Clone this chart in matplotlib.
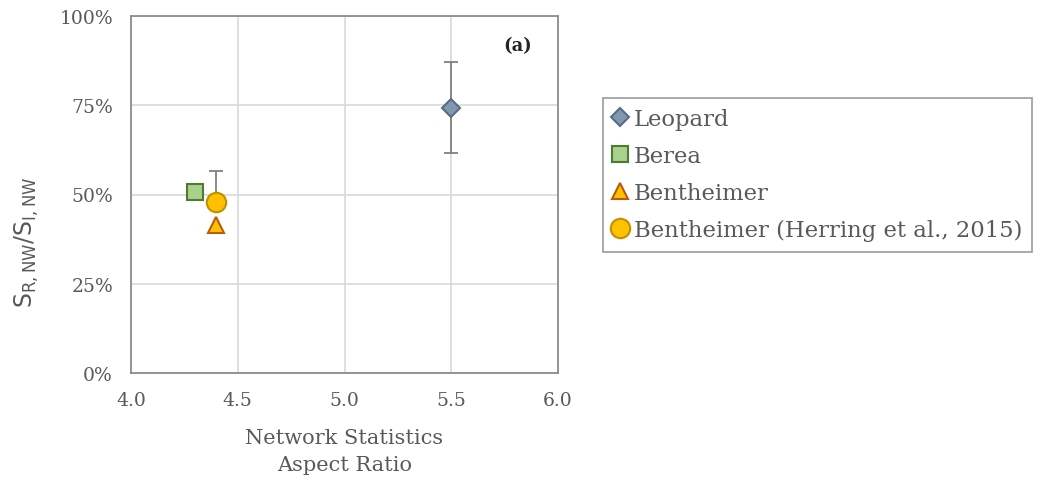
import matplotlib
matplotlib.use("Agg")
import matplotlib.pyplot as plt
from matplotlib.ticker import FuncFormatter

# values
names = ["Leopard", "Berea", "Bentheimer", "Bentheimer (Herring et al., 2015)"]
aspect_ratio = [5.5, 4.3, 4.4, 4.4]
s_ratio = [74.2, 50.8, 41.5, 48.0]
err_low = [12.5, 0, 0, 0]
err_high = [12.8, 0, 0, 8.6]

markers = ["D", "s", "^", "o"]
faces = ["#8497B0", "#A9D18E", "#FFC000", "#FFC000"]
edges = ["#5A6C85", "#4E7A31", "#B85A10", "#BF9000"]
sizes = [9, 12, 11, 14]

fig = plt.figure(figsize=(10.44, 4.85), dpi=100)
ax = fig.add_axes([131 / 1044, 1 - 374 / 485, 427 / 1044, 357 / 485])

handles = []
for i in range(len(names)):
    if err_low[i] or err_high[i]:
        ax.errorbar(aspect_ratio[i], s_ratio[i], yerr=[[err_low[i]], [err_high[i]]],
                    fmt="none", ecolor="#808080", elinewidth=1.3, capsize=5,
                    capthick=1.3, zorder=3)
    h, = ax.plot(aspect_ratio[i], s_ratio[i], marker=markers[i], ms=sizes[i],
                 mfc=faces[i], mec=edges[i], mew=1.5, ls="none", zorder=4 + (i == 2),
                 label=names[i])
    handles.append(h)

ax.set_xlim(4.0, 6.0)
ax.set_ylim(0, 100)
ax.set_xticks([4.0, 4.5, 5.0, 5.5, 6.0])
ax.set_yticks([0, 25, 50, 75, 100])
ax.yaxis.set_major_formatter(FuncFormatter(lambda v, p: "%d%%" % v))
ax.xaxis.set_major_formatter(FuncFormatter(lambda v, p: "%.1f" % v))
ax.grid(True, color="#D9D9D9", lw=1.2)
ax.set_axisbelow(True)
for s in ax.spines.values():
    s.set_color("#8C8C8C")
    s.set_linewidth(1.3)
ax.tick_params(axis="x", length=0, pad=13, labelsize=13.5, labelcolor="#595959")
ax.tick_params(axis="y", length=0, pad=13, labelsize=13.5, labelcolor="#595959")
for lab in ax.get_xticklabels() + ax.get_yticklabels():
    lab.set_family("DejaVu Serif")

ax.text(0.939, 0.918, "(a)", transform=ax.transAxes, ha="right", va="center",
        family="DejaVu Serif", fontweight="bold", fontsize=13, color="#262626")

ax.set_xlabel("Network Statistics\nAspect Ratio", family="DejaVu Serif",
              fontsize=15, color="#595959", labelpad=14, linespacing=1.5)
ax.set_ylabel(r"$\mathregular{S_{R,NW}/S_{I,NW}}$", fontsize=17, color="#595959")
ax.yaxis.set_label_coords(-0.21, 0.37)

leg = fig.legend(handles=handles, loc="upper left", bbox_to_anchor=(603 / 1044, 1 - 99 / 485),
                 frameon=True, fancybox=False, handlelength=0.6, handletextpad=0.3,
                 borderpad=0.45, labelspacing=0.66, borderaxespad=0,
                 prop={"family": "DejaVu Serif", "size": 16.4})
leg.get_frame().set_edgecolor("#8C8C8C")
leg.get_frame().set_linewidth(1.3)
for t in leg.get_texts():
    t.set_color("#595959")

fig.savefig("out.png", dpi=100)
